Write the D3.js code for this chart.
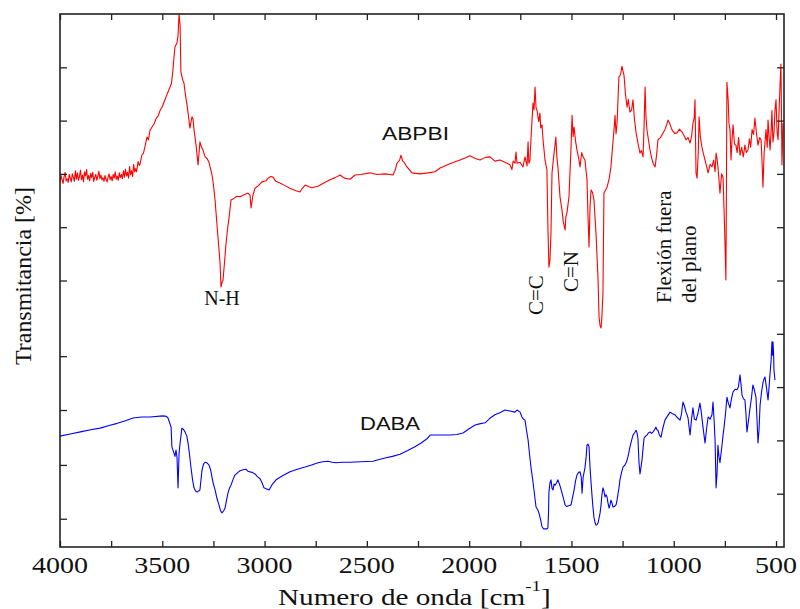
<!DOCTYPE html>
<html><head><meta charset="utf-8">
<script src="https://cdn.jsdelivr.net/npm/d3@7/dist/d3.min.js"></script>
<style>body{margin:0;background:#fff}svg{display:block}</style>
</head><body><svg id="c" width="800" height="609"></svg>
<script>
// ---------- DATA ----------
const xTickLabels = [4000, 3500, 3000, 2500, 2000, 1500, 1000, 500];
const xMinorTicks = [4000,3750,3500,3250,3000,2750,2500,2250,2000,1750,1500,1250,1000,750,500];
const rightTicks = [10,20,30,40,50,60,70,80,90];
const leftTicks = [90,80,70,60,50,35.8,25.7,15.4,5.3];

// ABPBI (red) [wavenumber cm-1, transmittance]
const abpbi = [
[4000,68.6],[3995,69.7],[3990,68.9],[3985,68.2],[3980,69.5],[3975,70.3],[3970,68.7],[3965,69.1],[3960,68.4],[3955,69.9],
[3950,69.2],[3945,68.5],[3940,70.0],[3935,69.4],[3930,68.6],[3925,70.6],[3920,69.0],[3915,70.2],[3910,68.8],[3905,69.5],
[3900,70.7],[3895,68.9],[3890,69.8],[3885,68.5],[3880,70.4],[3875,69.6],[3870,70.8],[3865,69.0],[3860,69.7],[3855,68.7],
[3850,70.1],[3845,69.3],[3840,70.3],[3835,68.6],[3830,69.4],[3825,69.9],[3820,68.8],[3815,69.6],[3810,70.5],[3805,69.1],
[3800,69.8],[3795,68.9],[3790,69.3],[3785,68.6],[3780,69.7],[3775,69.0],[3770,68.5],[3765,69.4],[3760,70.0],[3755,68.9],
[3750,69.5],[3745,68.7],[3740,69.9],[3735,69.2],[3730,70.4],[3725,69.0],[3720,69.6],[3715,68.8],[3710,70.2],[3705,69.3],
[3700,69.9],[3695,69.1],[3690,70.6],[3685,69.4],[3680,70.9],[3675,69.6],[3670,70.3],[3665,69.2],[3660,71.4],[3655,69.8],
[3650,70.6],[3645,69.5],[3640,71.8],[3635,70.4],[3630,71.0],[3626,70.4],[3618,72.3],[3612,71.6],
[3609,71.8],[3600,73.5],[3592,73.9],[3584,75.2],[3575,76.9],[3568,76.4],[3560,78.2],[3550,78.8],[3540,79.4],[3530,80.4],
[3520,80.9],[3511,81.9],[3500,82.6],[3487,83.9],[3475,85.1],[3462,86.3],[3455,87.0],[3448,89.5],[3443,91.8],[3438,93.8],
[3428,94.6],[3423,96.0],[3418,100],[3413,97.9],[3409,89.1],[3400,87.6],[3394,87.0],[3386,84.6],[3379,82.9],[3370,80.2],
[3365,78.6],[3355,80.7],[3350,80.4],[3345,78.3],[3335,75.4],[3325,71.7],[3316,76.0],[3308,75.0],[3301,74.5],[3291,73.2],
[3281,72.9],[3272,72.2],[3257,69.8],[3250,68.0],[3242,65.1],[3235,61.6],[3228,58.2],[3218,53.5],[3213,48.8],[3208,49.6],
[3203,50.1],[3195,53.8],[3189,56.7],[3180,60.0],[3174,61.7],[3164,65.1],[3150,65.4],[3135,65.8],[3120,65.7],[3100,66.1],
[3081,66.4],[3071,66.0],[3066,63.6],[3057,66.0],[3047,67.3],[3030,67.8],[3013,68.5],[2993,68.7],[2983,69.2],[2970,69.5],
[2959,69.4],[2945,68.6],[2925,68.3],[2900,67.8],[2876,67.3],[2850,66.9],[2827,66.6],[2815,67.3],[2802,67.9],[2770,67.4],
[2739,67.7],[2715,68.2],[2680,68.9],[2655,69.3],[2631,69.8],[2610,69.2],[2582,69.0],[2558,69.8],[2530,69.9],[2485,70.2],
[2450,69.9],[2411,70.0],[2372,69.8],[2360,70.9],[2353,72.0],[2340,72.6],[2333,73.5],[2325,72.4],[2318,72.2],[2304,71.3],
[2279,70.2],[2240,70.0],[2200,70.2],[2167,70.4],[2142,71.1],[2094,71.9],[2045,72.6],[2020,73.0],[1996,73.4],[1970,72.9],
[1947,72.6],[1920,73.1],[1898,73.2],[1874,72.4],[1850,72.6],[1825,72.2],[1800,71.7],[1791,70.8],[1785,72.4],[1776,72.0],
[1771,74.1],[1766,72.0],[1751,72.2],[1737,71.3],[1727,73.2],[1717,71.5],[1712,76.0],[1708,72.0],[1703,72.5],[1698,76.4],
[1688,83.3],[1683,82.0],[1678,86.3],[1673,82.4],[1668,81.9],[1660,79.8],[1654,81.4],[1650,78.6],[1644,79.2],[1638,76.0],
[1629,72.6],[1620,70.8],[1615,60.0],[1610,52.5],[1605,53.8],[1600,58.9],[1595,70.2],[1585,73.9],[1576,76.9],[1571,73.0],
[1566,71.3],[1556,65.7],[1546,63.2],[1540,61.0],[1531,59.5],[1527,62.0],[1522,62.7],[1512,65.7],[1502,75.0],[1497,81.0],
[1492,77.0],[1487,78.8],[1480,76.2],[1473,74.5],[1465,73.0],[1458,71.3],[1450,74.0],[1443,73.2],[1434,72.6],[1424,68.9],
[1419,62.0],[1414,56.3],[1409,64.0],[1404,67.0],[1397,66.5],[1390,65.1],[1385,62.0],[1380,58.9],[1375,54.6],[1370,50.1],
[1365,43.1],[1360,41.5],[1355,41.1],[1350,44.0],[1346,47.7],[1341,66.4],[1333,67.0],[1326,67.5],[1316,69.0],[1307,71.3],
[1297,76.0],[1290,79.2],[1287,81.0],[1282,77.5],[1277,79.5],[1268,88.2],[1260,88.6],[1253,90.2],[1248,89.3],[1243,88.5],
[1236,85.0],[1228,82.5],[1222,84.0],[1214,81.6],[1206,82.0],[1199,83.9],[1192,80.2],[1184,77.7],[1175,75.8],[1165,73.9],
[1158,74.4],[1150,73.2],[1145,79.0],[1140,86.3],[1136,81.0],[1131,78.3],[1124,76.5],[1116,74.5],[1108,73.0],[1101,72.0],
[1091,71.3],[1084,73.5],[1077,76.4],[1065,76.8],[1055,77.5],[1043,78.3],[1035,79.2],[1028,80.1],[1018,79.3],[1009,78.3],
[996,77.6],[984,77.7],[972,78.4],[960,77.9],[950,77.2],[940,76.4],[930,76.8],[920,75.8],[913,77.0],[906,79.5],
[900,80.5],[896,83.9],[891,70.2],[886,69.2],[880,74.0],[876,80.7],[870,77.0],[862,75.0],[855,73.8],[847,72.6],
[840,71.5],[832,70.2],[822,71.8],[813,71.3],[805,72.6],[798,70.4],[793,73.9],[788,72.8],[784,71.3],[779,69.0],
[774,66.4],[766,70.0],[759,69.4],[753,62.0],[748,55.0],[745,50.1],[742,70.0],[740,87.2],[734,84.0],[730,79.5],
[725,78.3],[720,72.6],[715,76.5],[710,79.2],[703,75.6],[696,75.4],[690,74.0],[683,76.8],[676,73.5],[668,75.0],
[660,73.2],[652,75.4],[645,74.0],[637,74.5],[630,76.6],[624,75.0],[617,78.3],[610,77.4],[603,80.5],[596,77.8],
[588,75.4],[580,76.8],[573,76.4],[568,72.0],[564,67.5],[558,74.0],[549,78.3],[543,75.0],[539,80.1],[534,77.0],
[529,74.5],[524,78.0],[520,81.9],[515,76.0],[510,77.7],[505,82.0],[500,83.9],[495,78.0],[490,76.4],[485,82.0],
[480,87.0],[476,90.6],[473,80.0],[471,71.7],[468,76.0],[466,79.5]
];

// DABA (blue)
const daba = [
[4000,20.8],[3950,21.2],[3900,21.6],[3850,22.0],[3804,22.3],[3760,22.8],[3720,23.2],[3680,23.7],[3643,24.2],[3600,24.4],
[3560,24.4],[3497,24.6],[3480,24.5],[3472,24.2],[3457,22.5],[3453,18.8],[3443,17.6],[3438,17.0],[3433,18.2],[3428,16.8],
[3423,11.1],[3418,17.6],[3413,19.5],[3404,22.3],[3395,22.0],[3389,21.6],[3380,20.8],[3374,19.5],[3367,17.4],[3360,15.0],
[3352,12.6],[3345,11.1],[3337,10.5],[3330,10.3],[3316,10.7],[3306,14.4],[3298,15.6],[3291,15.9],[3282,15.8],[3272,15.4],
[3264,14.5],[3257,13.1],[3250,11.8],[3242,10.7],[3232,9.0],[3223,7.9],[3215,6.8],[3208,6.4],[3200,6.8],[3193,7.3],
[3186,8.8],[3179,10.1],[3172,11.0],[3164,11.6],[3155,12.6],[3145,13.5],[3130,14.0],[3120,14.3],[3105,14.5],[3091,14.6],
[3081,14.2],[3071,14.1],[3060,14.0],[3047,13.7],[3035,13.2],[3022,12.8],[3012,12.0],[3003,11.1],[2990,10.9],[2978,10.7],
[2965,11.6],[2944,12.6],[2910,13.4],[2876,14.1],[2840,14.6],[2802,15.0],[2770,15.4],[2739,15.8],[2715,16.0],[2690,16.1],
[2670,15.9],[2651,15.8],[2620,15.9],[2582,15.9],[2530,16.0],[2470,16.1],[2440,16.4],[2411,16.7],[2375,17.0],[2338,17.4],
[2300,18.1],[2265,18.8],[2235,19.5],[2206,20.3],[2191,21.0],[2150,21.0],[2094,21.0],[2060,21.1],[2030,21.4],[2000,22.2],
[1971,22.9],[1950,23.1],[1922,23.3],[1900,24.1],[1874,24.8],[1850,25.2],[1825,25.7],[1800,25.5],[1776,25.3],[1766,25.7],
[1751,25.3],[1742,24.4],[1735,24.0],[1727,23.8],[1720,22.0],[1712,20.1],[1705,17.5],[1698,15.0],[1690,12.8],[1683,10.7],
[1678,9.0],[1673,7.5],[1665,7.0],[1659,6.4],[1650,5.0],[1644,3.8],[1636,3.4],[1629,3.4],[1620,3.4],[1615,3.6],
[1612,6.4],[1610,10.3],[1605,12.0],[1600,12.6],[1595,11.0],[1590,10.7],[1585,11.8],[1580,11.6],[1573,12.0],[1566,12.6],
[1556,11.5],[1546,10.1],[1538,9.0],[1531,7.9],[1524,7.6],[1517,7.7],[1510,7.8],[1502,7.9],[1495,9.2],[1487,10.7],
[1480,12.4],[1473,13.5],[1465,14.0],[1458,14.1],[1452,13.0],[1448,10.1],[1443,13.1],[1434,14.8],[1428,17.0],[1424,19.1],
[1419,19.3],[1414,18.8],[1409,14.8],[1404,12.0],[1399,9.4],[1395,7.5],[1390,5.6],[1385,4.6],[1380,4.1],[1375,4.2],
[1370,4.5],[1365,5.4],[1360,6.4],[1355,8.0],[1351,9.8],[1346,11.1],[1341,10.5],[1336,9.4],[1331,9.8],[1326,9.4],
[1321,8.2],[1316,7.3],[1311,8.0],[1307,8.8],[1302,8.3],[1297,7.5],[1290,7.6],[1282,7.9],[1277,8.8],[1272,10.1],
[1268,11.0],[1263,12.6],[1255,14.0],[1248,15.0],[1240,15.3],[1233,15.8],[1228,16.3],[1224,16.9],[1218,18.0],[1214,18.8],
[1206,20.0],[1199,21.0],[1192,21.4],[1184,21.9],[1180,21.5],[1175,20.4],[1170,16.0],[1165,13.7],[1160,15.0],[1155,16.3],
[1150,18.5],[1145,20.4],[1138,20.8],[1131,21.0],[1124,21.4],[1116,21.6],[1108,21.3],[1101,21.6],[1094,22.0],[1087,22.5],
[1082,22.0],[1077,21.9],[1070,21.0],[1062,20.6],[1055,22.0],[1043,23.8],[1030,24.6],[1018,25.3],[1006,25.0],[994,24.8],
[980,24.2],[969,23.8],[962,25.0],[955,27.2],[948,26.5],[940,25.3],[935,24.8],[930,24.2],[925,22.5],[920,21.0],
[913,24.0],[906,26.1],[899,24.0],[891,23.8],[882,25.0],[872,27.0],[866,25.5],[857,22.5],[852,21.0],[847,19.5],
[840,22.0],[832,24.4],[822,24.0],[813,24.8],[808,27.2],[803,24.0],[798,20.1],[793,11.1],[788,14.0],[784,19.1],
[779,17.0],[774,15.8],[769,17.5],[764,19.1],[759,21.0],[754,22.5],[747,25.0],[740,28.1],[733,27.0],[725,26.1],
[718,27.8],[710,29.1],[700,29.6],[691,29.5],[684,30.0],[676,32.3],[671,30.5],[666,28.5],[659,27.8],[652,27.6],
[647,25.0],[642,21.6],[637,23.0],[632,24.5],[627,26.1],[620,28.0],[613,30.4],[606,29.5],[598,28.1],[593,24.0],
[588,19.5],[583,22.0],[578,26.6],[571,29.0],[564,30.8],[559,31.5],[554,31.9],[547,30.0],[539,27.6],[534,30.0],
[529,32.6],[524,35.0],[520,38.5],[517,36.0],[515,38.5],[512,36.5],[510,33.2],[507,32.0],[505,31.3]
];

// ---------- CHART ----------
const svg = d3.select("#c");
const M = {l:60, r:784, t:14, b:547};
const x = d3.scaleLinear().domain([4000, 461]).range([M.l, M.r]);
const y = d3.scaleLinear().domain([0, 100]).range([M.b, M.t]);

const line = d3.line().x(d => x(d[0])).y(d => y(d[1]));

svg.append("path").datum(daba).attr("d", line)
  .attr("fill","none").attr("stroke","#0000ff").attr("stroke-width",1.1).attr("stroke-linejoin","round");
svg.append("path").datum(abpbi).attr("d", line)
  .attr("fill","none").attr("stroke","#ff0000").attr("stroke-width",1.1).attr("stroke-linejoin","round");

const axisColor = "#222";
const gB = svg.append("g").attr("transform",`translate(0,${M.b})`)
  .call(d3.axisBottom(x).tickValues(xMinorTicks).tickSizeInner(-6).tickSizeOuter(0).tickFormat(""));
const gT = svg.append("g").attr("transform",`translate(0,${M.t})`)
  .call(d3.axisTop(x).tickValues(xMinorTicks).tickSizeInner(-6).tickSizeOuter(0).tickFormat(""));
const gL = svg.append("g").attr("transform",`translate(${M.l},0)`)
  .call(d3.axisLeft(y).tickValues(leftTicks).tickSizeInner(-7).tickSizeOuter(0).tickFormat(""));
const gR = svg.append("g").attr("transform",`translate(${M.r},0)`)
  .call(d3.axisRight(y).tickValues(rightTicks).tickSizeInner(-7).tickSizeOuter(0).tickFormat(""));
[gB,gT,gL,gR].forEach(g => {
  g.select(".domain").remove();
  g.selectAll(".tick line").attr("stroke",axisColor).attr("stroke-width",1.3);
});
svg.append("rect").attr("x",M.l).attr("y",M.t).attr("width",M.r-M.l).attr("height",M.b-M.t)
  .attr("fill","none").attr("stroke",axisColor).attr("stroke-width",1.6);

const serif = "'Liberation Serif', 'Times New Roman', serif";
const sans = "'Liberation Sans', Arial, sans-serif";

svg.append("g").selectAll("text").data(xTickLabels).join("text")
  .attr("x", d => x(d)).attr("y", 573)
  .attr("text-anchor","middle")
  .attr("font-family",serif)
  .attr("font-size",23)
  .attr("textLength", d => String(d).length*14)
  .attr("lengthAdjust","spacingAndGlyphs")
  .attr("fill","#111")
  .text(d => d);

const xt = svg.append("text")
  .attr("transform","translate(278,605) scale(1.27,1)")
  .attr("font-family",serif)
  .attr("font-size",23).attr("fill","#111");
xt.append("tspan").text("Numero de onda [cm");
xt.append("tspan").attr("font-size",15).attr("dy",-14).text("-1");
xt.append("tspan").attr("dy",14).text("]");

svg.append("text")
  .attr("transform","translate(31,365) rotate(-90)")
  .attr("font-family",serif)
  .attr("font-size",23).attr("fill","#111")
  .attr("textLength",178).attr("lengthAdjust","spacingAndGlyphs")
  .text("Transmitancia [%]");

svg.append("text").attr("x",222).attr("y",305).attr("text-anchor","middle")
  .attr("font-family",serif).attr("font-size",20).attr("fill","#111").text("N-H");
svg.append("text").attr("x",382).attr("y",140)
  .attr("font-family",sans).attr("font-size",18).attr("fill","#111")
  .attr("textLength",67).attr("lengthAdjust","spacingAndGlyphs").text("ABPBI");
svg.append("text").attr("x",360).attr("y",430)
  .attr("font-family",sans).attr("font-size",18).attr("fill","#111")
  .attr("textLength",60).attr("lengthAdjust","spacingAndGlyphs").text("DABA");
const rot = [["C=C",543,315],["C=N",578,292],["Flexión fuera",671,303],["del plano",696,303]];
svg.append("g").selectAll("text").data(rot).join("text")
  .attr("transform", d => `translate(${d[1]},${d[2]}) rotate(-90)`)
  .attr("font-family",serif).attr("font-size",21).attr("fill","#111")
  .text(d => d[0]);
</script></body></html>
